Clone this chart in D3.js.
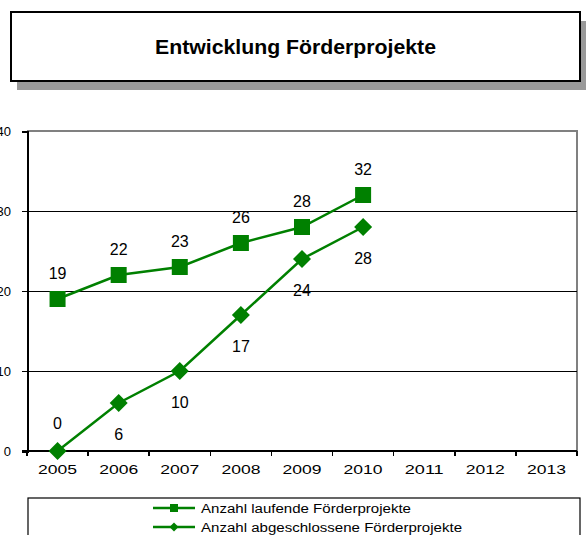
<!DOCTYPE html>
<html>
<head>
<meta charset="utf-8">
<script src="https://cdn.jsdelivr.net/npm/d3@7"></script>
<style>
  html, body { margin: 0; padding: 0; background: #fff; }
  svg { display: block; font-family: "Liberation Sans", Arial, sans-serif; }
</style>
</head>
<body>
<svg id="chart" width="586" height="535"></svg>
<script>
// Jahre (Kategorien) und Werte der beiden Reihen
const years = ['2005', '2006', '2007', '2008', '2009', '2010', '2011', '2012', '2013'];
const laufende = [19, 22, 23, 26, 28, 32];
const abgeschlossene = [0, 6, 10, 17, 24, 28];
const yTicks = [0, 10, 20, 30, 40];
const titleText = 'Entwicklung Förderprojekte';
const seriesNames = ['Anzahl laufende Förderprojekte', 'Anzahl abgeschlossene Förderprojekte'];

const green = '#008000';
const fontFam = '"Liberation Sans", Arial, sans-serif';
const svg = d3.select('#chart');

// Titelbox mit Schatten
const tb = { x: 11, y: 12, w: 569, h: 69 };
svg.append('rect').attr('x', tb.x + 6).attr('y', tb.y + 9).attr('width', tb.w).attr('height', tb.h)
  .attr('fill', '#999999');
svg.append('rect').attr('x', tb.x).attr('y', tb.y).attr('width', tb.w).attr('height', tb.h)
  .attr('fill', '#fff').attr('stroke', '#000').attr('stroke-width', 2);
svg.append('text').attr('x', 155).attr('y', tb.y + tb.h / 2 + 7)
  .attr('font-size', 20).attr('font-weight', 'bold')
  .attr('textLength', 281).attr('lengthAdjust', 'spacingAndGlyphs')
  .text(titleText);

// Diagrammfläche
const plot = { left: 27, right: 577, top: 131, bottom: 451 };
const x = d3.scaleBand().domain(years).range([plot.left, plot.right]).padding(0);
const y = d3.scaleLinear().domain([0, 40]).range([plot.bottom, plot.top]);

// Rahmen oben und rechts
svg.append('path')
  .attr('d', `M${plot.left},${plot.top}H${plot.right}V${plot.bottom}`)
  .attr('fill', 'none').attr('stroke', '#808080').attr('stroke-width', 2)
  .attr('shape-rendering', 'crispEdges');

// Gitternetzlinien
svg.append('g').selectAll('line').data(yTicks.filter(d => d > 0 && d < 40)).join('line')
  .attr('x1', plot.left).attr('x2', plot.right)
  .attr('y1', d => y(d)).attr('y2', d => y(d))
  .attr('stroke', '#000').attr('stroke-width', 1)
  .attr('shape-rendering', 'crispEdges');

// Y-Achse
const yAxis = svg.append('g').attr('transform', `translate(${plot.left},0)`)
  .call(d3.axisLeft(y).tickValues(yTicks).tickSize(5).tickPadding(11).tickFormat(d3.format('d')));
yAxis.select('.domain').attr('stroke', '#000').attr('stroke-width', 2).attr('shape-rendering', 'crispEdges');
yAxis.selectAll('.tick line').attr('stroke', '#000').attr('stroke-width', 1.5).attr('shape-rendering', 'crispEdges');
yAxis.selectAll('.tick text').attr('font-size', 13).attr('fill', '#000').attr('font-family', fontFam);

// X-Achse: Beschriftung mittig, Teilstriche zwischen den Kategorien
const xAxis = svg.append('g').attr('transform', `translate(0,${plot.bottom})`)
  .call(d3.axisBottom(x).tickSize(0).tickPadding(14));
xAxis.select('.domain').remove();
xAxis.selectAll('.tick text').attr('font-size', 13).attr('fill', '#000').attr('font-family', fontFam)
  .attr('textLength', 39).attr('lengthAdjust', 'spacingAndGlyphs');
svg.append('line').attr('x1', plot.left - 5).attr('x2', plot.right)
  .attr('y1', plot.bottom).attr('y2', plot.bottom).attr('stroke', '#000').attr('stroke-width', 2)
  .attr('shape-rendering', 'crispEdges');
const boundaries = years.map(d => x(d)).concat([x.range()[1]]);
svg.append('g').selectAll('line').data(boundaries).join('line')
  .attr('x1', d => d).attr('x2', d => d)
  .attr('y1', plot.bottom).attr('y2', plot.bottom + 5)
  .attr('stroke', '#000').attr('stroke-width', 1.5).attr('shape-rendering', 'crispEdges');

const cx = (i) => x(years[i]) + x.bandwidth() / 2;
const line = d3.line().x((d, i) => cx(i)).y(d => y(d));

// Reihe: laufende Projekte (Quadrate)
svg.append('path').datum(laufende).attr('d', line)
  .attr('fill', 'none').attr('stroke', green).attr('stroke-width', 2.5);
svg.append('g').selectAll('rect').data(laufende).join('rect')
  .attr('x', (d, i) => cx(i) - 8).attr('y', d => y(d) - 8)
  .attr('width', 16).attr('height', 16).attr('fill', green);
svg.append('g').selectAll('text').data(laufende).join('text')
  .attr('x', (d, i) => cx(i)).attr('y', d => y(d) - 20)
  .attr('text-anchor', 'middle').attr('font-size', 16).text(d => d);

// Reihe: abgeschlossene Projekte (Rauten)
svg.append('path').datum(abgeschlossene).attr('d', line)
  .attr('fill', 'none').attr('stroke', green).attr('stroke-width', 2.5);
svg.append('g').selectAll('path').data(abgeschlossene).join('path')
  .attr('d', (d, i) => `M${cx(i)},${y(d) - 9}L${cx(i) + 9},${y(d)}L${cx(i)},${y(d) + 9}L${cx(i) - 9},${y(d)}Z`)
  .attr('fill', green);
svg.append('g').selectAll('text').data(abgeschlossene).join('text')
  .attr('x', (d, i) => cx(i))
  .attr('y', d => d === 0 ? y(d) - 22 : y(d) + 37)
  .attr('text-anchor', 'middle').attr('font-size', 16).text(d => d);

// Legende
svg.append('rect').attr('x', 28).attr('y', 498).attr('width', 552).attr('height', 60)
  .attr('fill', '#fff').attr('stroke', '#000').attr('stroke-width', 1.2);
const legendRows = [
  { name: seriesNames[0], y: 508, marker: 'square', width: 210 },
  { name: seriesNames[1], y: 527, marker: 'diamond', width: 261 }
];
const lg = svg.append('g');
legendRows.forEach(r => {
  lg.append('line').attr('x1', 153).attr('x2', 195).attr('y1', r.y).attr('y2', r.y)
    .attr('stroke', green).attr('stroke-width', 2.5);
  if (r.marker === 'square') {
    lg.append('rect').attr('x', 174 - 4).attr('y', r.y - 4).attr('width', 8).attr('height', 8).attr('fill', green);
  } else {
    lg.append('path').attr('d', `M174,${r.y - 4.5}L178.5,${r.y}L174,${r.y + 4.5}L169.5,${r.y}Z`).attr('fill', green);
  }
  lg.append('text').attr('x', 201).attr('y', r.y + 4.5).attr('font-size', 12.5)
    .attr('textLength', r.width).attr('lengthAdjust', 'spacingAndGlyphs').text(r.name);
});
</script>
</body>
</html>
